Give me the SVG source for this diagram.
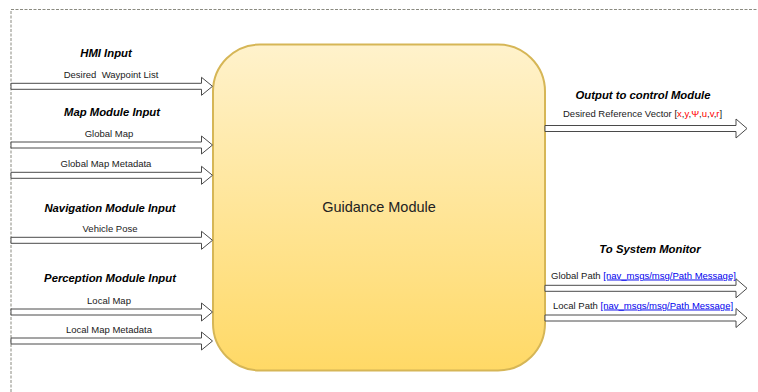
<svg xmlns="http://www.w3.org/2000/svg" width="758" height="392" viewBox="0 0 758 392">
  <defs>
    <linearGradient id="boxFill" x1="0" y1="0" x2="0" y2="1">
      <stop offset="0" stop-color="#fff2cc"/>
      <stop offset="1" stop-color="#ffd966"/>
    </linearGradient>
    <style>
      .frame { fill: none; stroke: #8a8a80; stroke-width: 1; stroke-dasharray: 3 1.5; }
      .arrow { fill: #ffffff; stroke: #4a4a4a; stroke-width: 1; stroke-linejoin: miter; }
      .head { font-family: "Liberation Sans", Arial, sans-serif; font-size: 11.3px; font-weight: bold; font-style: italic; fill: #000000; text-anchor: middle; }
      .lbl { font-family: "Liberation Sans", Arial, sans-serif; font-size: 9.5px; fill: #1a1a1a; white-space: pre; }
      .mid { text-anchor: middle; }
      .red { fill: #ff0000; }
      .link { fill: #0000ee; text-decoration: underline; }
      .title { font-family: "Liberation Sans", Arial, sans-serif; font-size: 14.5px; fill: #222222; text-anchor: middle; }
    </style>
  </defs>

  <rect width="758" height="392" fill="#ffffff"/>

  <!-- dashed container edge -->
  <path class="frame" d="M11,392 V9.5 H758"/>

  <!-- central module -->
  <g id="guidance-module">
    <rect x="213" y="44.5" width="332" height="326" rx="47" ry="47" fill="url(#boxFill)" stroke="#d6b656" stroke-width="2"/>
    <text class="title" x="379" y="212">Guidance Module</text>
  </g>

  <!-- input and output flows -->
  <g id="connectors">
    <path class="arrow" d="M11,83.3 H201.5 V77.3 L212.5,86.3 L201.5,95.3 V89.3 H11 Z"/>
    <path class="arrow" d="M11,142 H201.5 V136 L212.5,145 L201.5,154 V148 H11 Z"/>
    <path class="arrow" d="M11,172.3 H201.5 V166.3 L212.5,175.3 L201.5,184.3 V178.3 H11 Z"/>
    <path class="arrow" d="M11,237.3 H201.5 V231.3 L212.5,240.3 L201.5,249.3 V243.3 H11 Z"/>
    <path class="arrow" d="M11,309 H201.5 V303 L212.5,312 L201.5,321 V315 H11 Z"/>
    <path class="arrow" d="M11,338 H201.5 V332 L212.5,341 L201.5,350 V344 H11 Z"/>

    <path class="arrow" d="M545,125.5 H736 V119 L747,128.5 L736,138 V131.5 H545 Z"/>
    <path class="arrow" d="M545,285.3 H736 V278.8 L747,288.3 L736,297.8 V291.3 H545 Z"/>
    <path class="arrow" d="M545,315 H736 V308.5 L747,318 L736,327.5 V321 H545 Z"/>
  </g>

  <g id="hmi-input">
    <text class="head" x="106" y="57">HMI Input</text>
    <text class="lbl mid" x="111" y="78">Desired  Waypoint List</text>
  </g>

  <g id="map-module-input">
    <text class="head" x="112" y="116">Map Module Input</text>
    <text class="lbl mid" x="109" y="137">Global Map</text>
    <text class="lbl mid" x="106" y="167">Global Map Metadata</text>
  </g>

  <g id="navigation-module-input">
    <text class="head" x="110" y="212">Navigation Module Input</text>
    <text class="lbl mid" x="110" y="231.5">Vehicle Pose</text>
  </g>

  <g id="perception-module-input">
    <text class="head" x="110" y="282">Perception Module Input</text>
    <text class="lbl mid" x="109" y="303.5">Local Map</text>
    <text class="lbl mid" x="109" y="332.5">Local Map Metadata</text>
  </g>

  <g id="control-output">
    <text class="head" x="643" y="99">Output to control Module</text>
    <text class="lbl" x="563" y="116.5">Desired Reference Vector [<tspan class="red">x</tspan>,<tspan class="red">y</tspan>,<tspan class="red">Ψ</tspan>,<tspan class="red">u</tspan>,<tspan class="red">v</tspan>,<tspan class="red">r</tspan>]</text>
  </g>

  <g id="system-monitor-output">
    <text class="head" x="650" y="253">To System Monitor</text>
    <text class="lbl" x="551" y="278.5">Global Path <tspan class="link">[nav_msgs/msg/Path Message]</tspan></text>
    <text class="lbl" x="553" y="308.5">Local Path <tspan class="link">[nav_msgs/msg/Path Message]</tspan></text>
  </g>
</svg>
